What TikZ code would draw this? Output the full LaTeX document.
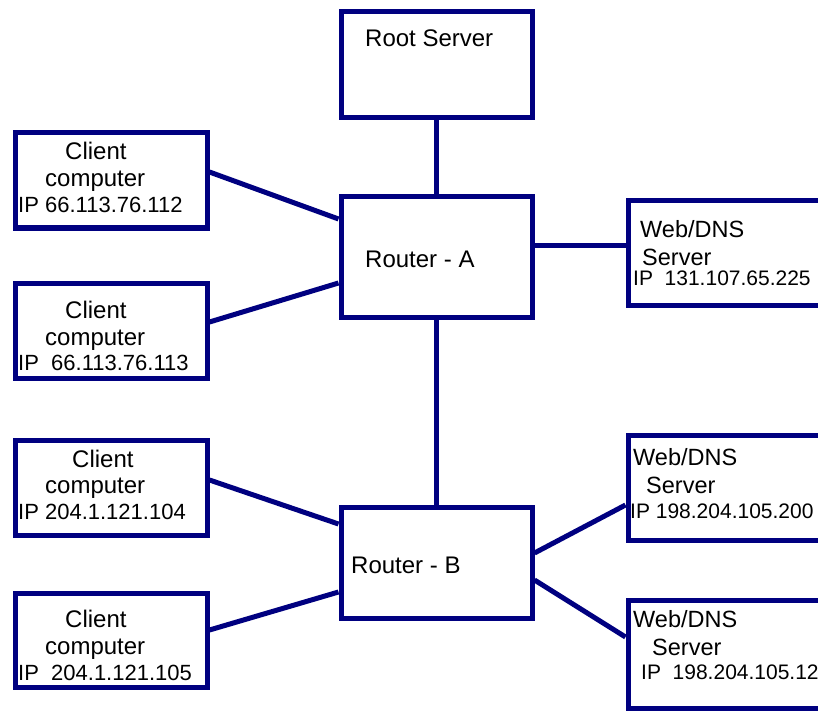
\documentclass[tikz,border=0pt]{standalone}
\usepackage{fontspec}
\setmainfont{Liberation Sans}
\definecolor{linkblue}{RGB}{0,0,128}
\begin{document}
\begin{tikzpicture}[x=1pt,y=-1pt,
  box/.style={draw=linkblue,line width=5pt,fill=white,rectangle,inner sep=0pt},
  link/.style={draw=linkblue,line width=5pt},
  lbl/.style={anchor=base west,inner sep=0pt,text=black,font=\fontsize{24}{28}\selectfont},
  srv/.style={lbl,font=\fontsize{23.5}{28}\selectfont},
  ip/.style={lbl,font=\fontsize{22}{26}\selectfont},
  wip/.style={lbl,font=\fontsize{21}{26}\selectfont}]
\useasboundingbox (0,0) rectangle (818,711);
\clip (0,0) rectangle (818,711);
\fill[white] (0,0) rectangle (818,711);

% boxes
\node[box,minimum width=191pt,minimum height=106pt] (root) at (436.5,65) {};
\node[box,minimum width=191pt,minimum height=120pt] (ra) at (436.5,257) {};
\node[box,minimum width=191pt,minimum height=111pt] (rb) at (436.5,562.5) {};
\node[box,minimum width=192pt,minimum height=95pt] (c1) at (111,180.5) {};
\node[box,minimum width=192pt,minimum height=95pt] (c2) at (111,330.5) {};
\node[box,minimum width=192pt,minimum height=95pt] (c3) at (111,487.5) {};
\node[box,minimum width=192pt,minimum height=94pt] (c4) at (111,640) {};
\node[box,minimum width=272pt,minimum height=104pt] (w1) at (764,253) {};
\node[box,minimum width=272pt,minimum height=105pt] (w2) at (764,487.5) {};
\node[box,minimum width=272pt,minimum height=108pt] (w3) at (764,654) {};

% connectors
\draw[link] (root.south) -- (ra.north);
\draw[link] (ra.south) -- (rb.north);
\draw[link] ([yshift=8.5pt]c1.east) -- ([yshift=38pt]ra.west);
\draw[link] ([yshift=8.5pt]c2.east) -- ([yshift=-26pt]ra.west);
\draw[link] ([yshift=12pt]ra.east) -- ([yshift=12pt]ra.east -| w1.west);
\draw[link] ([yshift=7.5pt]c3.east) -- ([yshift=38.5pt]rb.west);
\draw[link] ([yshift=10pt]c4.east) -- ([yshift=-29.5pt]rb.west);
\draw[link] ([yshift=9.5pt]rb.east) -- ([yshift=-17.5pt]w2.west);
\draw[link] ([yshift=-17.5pt]rb.east) -- ([yshift=17pt]w3.west);

% labels
\node[lbl] (rootT) at (365,47) {Root Server};
\node[lbl] (raT) at (365,267) {Router - A};
\node[lbl] (rbT) at (351,573) {Router - B};

\node[lbl] (c1a) at (65,160) {Client};
\node[lbl] (c1b) at (45,187) {computer};
\node[ip] (c1c) at (18,212) {IP 66.113.76.112};

\node[lbl] (c2a) at (65,318) {Client};
\node[lbl] (c2b) at (45,345) {computer};
\node[ip] (c2c) at (18,370) {IP\ \ 66.113.76.113};

\node[lbl] (c3a) at (72,467) {Client};
\node[lbl] (c3b) at (45,493) {computer};
\node[ip] (c3c) at (18,519) {IP 204.1.121.104};

\node[lbl] (c4a) at (65,627) {Client};
\node[lbl] (c4b) at (45,654) {computer};
\node[ip] (c4c) at (18,680) {IP\ \ 204.1.121.105};

\node[srv] (w1a) at (640,237) {Web/DNS};
\node[srv] (w1b) at (642,265) {Server};
\node[wip] (w1c) at (633,285) {IP\ \ 131.107.65.225};

\node[srv] (w2a) at (633,465) {Web/DNS};
\node[srv] (w2b) at (646,493) {Server};
\node[wip] (w2c) at (630,518) {IP 198.204.105.200};

\node[srv] (w3a) at (633,627) {Web/DNS};
\node[srv] (w3b) at (652,655) {Server};
\node[wip] (w3c) at (641,679) {IP\ \ 198.204.105.12};
\end{tikzpicture}
\end{document}
